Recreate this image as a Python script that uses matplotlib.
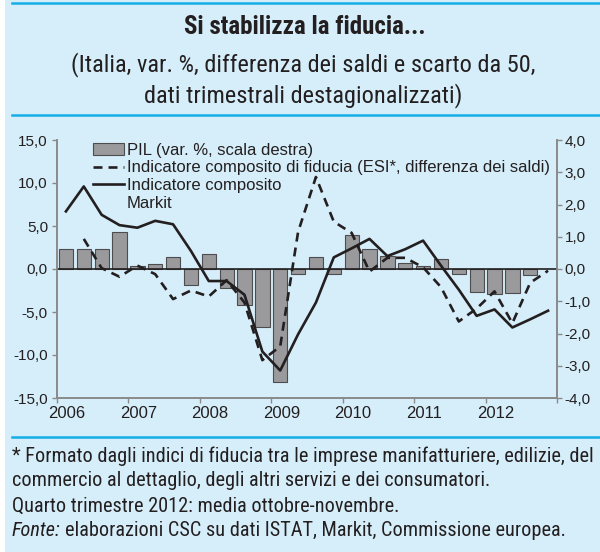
import numpy as np
import matplotlib
matplotlib.use("Agg")
import matplotlib.pyplot as plt
from matplotlib.lines import Line2D
from matplotlib.patches import Rectangle, Patch
from matplotlib.ticker import FuncFormatter
from matplotlib.transforms import ScaledTranslation

plt.rcParams['font.family'] = ['Liberation Sans', 'DejaVu Sans']
stretto = ['Roboto Condensed', 'DejaVu Sans']

# dati trimestrali 2006Q1 - 2012Q4
anni = [2006, 2007, 2008, 2009, 2010, 2011, 2012]
pil = [0.62, 0.62, 0.62, 1.15,
       0.08, 0.15, 0.36, -0.51,
       0.46, -0.59, -1.12, -1.80,
       -3.51, -0.17, 0.37, -0.15,
       1.04, 0.62, 0.41, 0.20,
       0.10, 0.31, -0.15, -0.71,
       -0.78, -0.74, -0.18, np.nan]
esi = [np.nan, 3.5, 0.1, -0.9,
       0.4, -0.6, -3.5, -2.5,
       -3.2, -1.3, -3.9, -10.6,
       -9.0, 4.3, 10.7, 5.5,
       4.2, -0.3, 1.3, 1.3,
       0.2, -2.1, -6.1, -4.6,
       -2.6, -6.3, -1.6, -0.2]
markit = [6.7, 9.6, 6.3, 5.1,
          4.8, 5.6, 5.2, 2.1,
          -1.4, -1.4, -3.0, -9.6,
          -11.8, -7.6, -3.9, 1.35,
          2.4, 3.5, 1.5, 2.3,
          3.3, 0.4, -2.4, -5.45,
          -4.7, -6.8, -5.85, -4.85]

x = 2006 + (np.arange(len(pil)) + 0.5) / 4

sfondo = '#d6eefa'
ciano = '#14aee6'
grigio_asse = '#8a8a8a'
testo = '#231f20'

fig = plt.figure(figsize=(6, 5.52), dpi=100)
fig.patch.set_facecolor('white')
fig.patches.append(Rectangle((5 / 600, 0), 1, 1, transform=fig.transFigure,
                             facecolor=sfondo, edgecolor='none', zorder=-10))
for yy in [3, 115, 437]:
    fig.add_artist(Line2D([12 / 600, 1], [1 - yy / 552] * 2, transform=fig.transFigure,
                          color=ciano, lw=1.8))

fig.text(0.508, 1 - 34 / 552, 'Si stabilizza la fiducia...', ha='center', va='baseline',
         fontsize=18, fontweight='bold', color=testo, family=stretto)
fig.text(0.505, 1 - 71.5 / 552, '(Italia, var. %, differenza dei saldi e scarto da 50,',
         ha='center', va='baseline', fontsize=17.6, color=testo, family=stretto)
fig.text(0.505, 1 - 102.5 / 552, 'dati trimestrali destagionalizzati)',
         ha='center', va='baseline', fontsize=17.6, color=testo, family=stretto)

note = ['* Formato dagli indici di fiducia tra le imprese manifatturiere, edilizie, del',
        'commercio al dettaglio, degli altri servizi e dei consumatori.',
        'Quarto trimestre 2012: media ottobre-novembre.']
for i, riga in enumerate(note):
    fig.text(12 / 600, 1 - (456 + 25 * i) / 552, riga, ha='left', va='center',
             fontsize=14.6, color=testo, family=stretto)
t_fonte = fig.text(12 / 600, 1 - 531 / 552, 'Fonte:', ha='left', va='center',
                   fontsize=14.6, color=testo, style='italic', family=stretto)
fig.add_artist(matplotlib.text.Annotation(
    'elaborazioni CSC su dati ISTAT, Markit, Commissione europea.',
    xy=(1, 0), xycoords=t_fonte, xytext=(3, 0), textcoords='offset points',
    ha='left', va='bottom', fontsize=14.6, color=testo, family=stretto))

ax = fig.add_axes([57 / 600, 1 - 398 / 552, 500 / 600, 258 / 552])
ax2 = ax.twinx()
ax.set_zorder(ax2.get_zorder() + 1)
ax.patch.set_visible(False)
ax2.patch.set_visible(False)

ax2.bar(x, pil, width=0.2, color='#9a9a9c', edgecolor='#4d4d4f', linewidth=0.8)
ax2.set_ylim(-4, 4)
ax2.set_yticks(np.arange(-4, 5, 1))

ax.axhline(0, color='#231f20', lw=1.2, zorder=1)
l_esi, = ax.plot(x, esi, color='#231f20', lw=1.9, zorder=3)
l_esi.set_dashes((3.4, 2.3))
l_mk, = ax.plot(x, markit, color='#231f20', lw=1.9, zorder=3)
ax.set_ylim(-15, 15)
ax.set_yticks(np.arange(-15, 16, 5))
ax.set_xlim(2006, 2013)
ax.set_xticks(list(anni) + [2013])
ax.set_xticklabels([str(a) for a in anni] + [''])

fmt = FuncFormatter(lambda v, p: ('%.1f' % v).replace('.', ','))
ax.yaxis.set_major_formatter(fmt)
ax2.yaxis.set_major_formatter(fmt)

for a in (ax, ax2):
    for s in a.spines.values():
        s.set_color(grigio_asse)
        s.set_linewidth(1.2)
    a.spines['top'].set_visible(False)
    a.tick_params(colors=grigio_asse, labelcolor=testo, labelsize=11, length=3.5, width=1)
ax.tick_params(axis='y', pad=3)
ax2.tick_params(axis='y', pad=2)
ax.tick_params(axis='x', pad=2, labelsize=12)
sposta = ScaledTranslation(0.1, 0, fig.dpi_scale_trans)
for lab in ax.get_xticklabels():
    lab.set_transform(lab.get_transform() + sposta)

barra = Patch(facecolor='#9a9a9c', edgecolor='#4d4d4f', linewidth=0.8)
vuoto = Line2D([], [], alpha=0)
leg = ax.legend([barra, l_esi, l_mk, vuoto],
                ['PIL (var. %, scala destra)',
                 'Indicatore composito di fiducia (ESI*, differenza dei saldi)',
                 'Indicatore composito', 'Markit'],
                loc='upper left', bbox_to_anchor=(0.058, 1.016), frameon=False,
                fontsize=12, handlelength=1.85, handletextpad=0.2, labelspacing=0.17,
                borderaxespad=0, labelcolor=testo)

fig.savefig('out.png', dpi=100, facecolor=fig.get_facecolor())
